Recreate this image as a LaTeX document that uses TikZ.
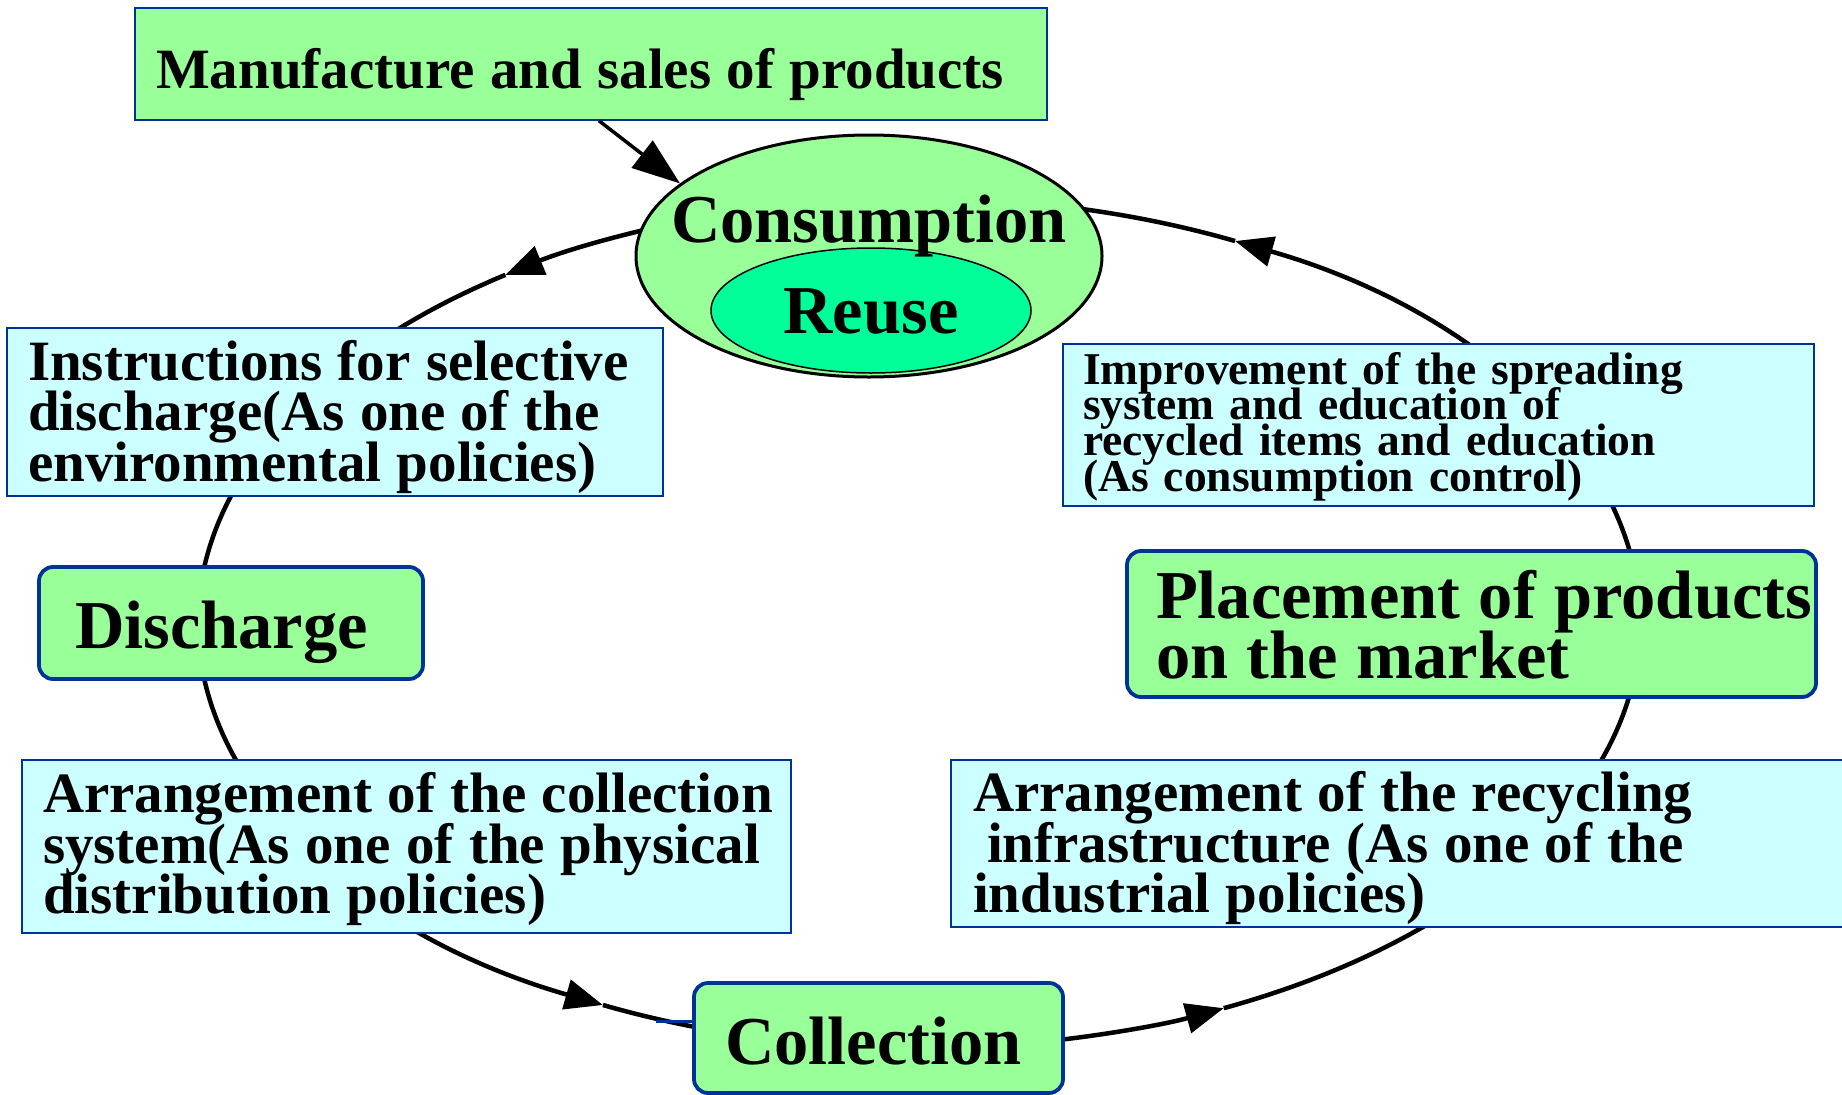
\documentclass[tikz,border=0pt]{standalone}
\usepackage{fontspec}
\setmainfont{Liberation Serif}
\usetikzlibrary{shapes.geometric,arrows.meta,calc}
\definecolor{lgreen}{RGB}{153,255,153}
\definecolor{lcyan}{RGB}{204,255,255}
\definecolor{reusegreen}{RGB}{0,255,153}
\definecolor{bordblue}{RGB}{0,51,153}
\pgfdeclarelayer{background}
\pgfsetlayers{background,main}
\newcommand\tightsp{\spaceskip=.27em plus .05em\relax}
\begin{document}
\begin{tikzpicture}[x=1pt, y=-1pt,
  bigfont/.style={font={\fontsize{68.5}{60.5}\selectfont\bfseries\lineskiplimit=-500pt\relax}},
  midfont/.style={font={\fontsize{57}{50.5}\selectfont\bfseries\lineskiplimit=-500pt\relax}},
  smallfont/.style={font={\fontsize{45.5}{35.7}\selectfont\bfseries\lineskiplimit=-500pt\relax}},
  flatbox/.style={rectangle, draw=bordblue, line width=1.5pt, inner ysep=0pt, align=left},
  greenflat/.style={flatbox, fill=lgreen},
  cyanflat/.style={flatbox, fill=lcyan},
  roundbox/.style={rectangle, rounded corners=14pt, draw=bordblue, line width=3.8pt, fill=lgreen, inner ysep=0pt, align=left},
  cyc/.style={line width=4.5pt, black},
  cyctip/.style={-{Triangle[length=38pt,width=30pt]}},
  eradii/.style={x radius=721, y radius=425},
]
\useasboundingbox (0,0) rectangle (1842,1095);

% boxes
\node[greenflat, midfont, minimum width=912, minimum height=112, inner xsep=21, text width=870, text height=48, text depth=0] (manu) at (591,64) {\tightsp\mbox{Manufacture and sales of products}};

\node[ellipse, draw=black, line width=3pt, fill=lgreen, minimum width=466, minimum height=242, inner sep=0pt] (cons) at (869,256) {};
\node[ellipse, draw=black, line width=1.5pt, fill=reusegreen, minimum width=320, minimum height=125, inner sep=0pt, bigfont, text height=46, text depth=0] (reuse) at (871,310.5) {Reuse};
\node[bigfont, anchor=base, inner sep=0pt] (constext) at (869,242) {Consumption};

\node[cyanflat, midfont, minimum width=656, minimum height=168, inner xsep=21, text width=614, text height=20, text depth=84] (instr) at (335,412)
  {\tightsp\mbox{Instructions for selective}\\\mbox{discharge(As one of the}\\\mbox{environmental policies)}};

\node[cyanflat, smallfont, minimum width=751, minimum height=162, inner xsep=20, text width=711, text height=10, text depth=92] (improve) at (1438.5,425)
  {\mbox{Improvement of the spreading}\\\mbox{system and education of}\\\mbox{recycled items and education}\\\mbox{(As consumption control)}};

\node[roundbox, bigfont, minimum width=384, minimum height=112, inner xsep=36, text width=312, text height=50, text depth=0] (discharge) at (231,623) {\mbox{Discharge}};

\node[roundbox, bigfont, minimum width=689, minimum height=146, inner xsep=29, text width=631, text height=40, text depth=52] (placement) at (1471.5,624)
  {\tightsp\mbox{Placement of products}\\\mbox{on the market}};

\node[cyanflat, midfont, minimum width=769, minimum height=173, inner xsep=21, text width=727, text height=20, text depth=88] (collsys) at (406.5,846.5)
  {\tightsp\mbox{Arrangement of the collection}\\\mbox{system(As one of the physical}\\\mbox{distribution policies)}};

\node[cyanflat, midfont, minimum width=909, minimum height=167, inner xsep=22, text width=865, text height=20, text depth=84] (recyc) at (1405.5,843.5)
  {\tightsp\mbox{Arrangement of the recycling}\\\mbox{\hspace*{14pt}infrastructure (As one of the}\\\mbox{industrial policies)}};

\node[roundbox, bigfont, minimum width=369, minimum height=110, inner xsep=31, text width=307, text height=52, text depth=0] (coll) at (878.5,1038) {\mbox{Collection}};

% manufacture -> consumption
\draw[line width=3.5pt, -{Triangle[length=48pt,width=34pt]}] ([xshift=8pt]manu.south) -- (cons.159);

% small blue stub at the collection box
\draw[bordblue, line width=3pt] ([yshift=17pt]coll.west) -- ++(-36,0);

% cycle arcs
\begin{pgfonlayer}{background}
\fill[white] (0,0) rectangle (1842,1095);
\coordinate (O) at (919,623);
\coordinate (s1) at ($(O)+(252:721 and 425)$);
\coordinate (m1) at ($(O)+(235:721 and 425)$);
\coordinate (s2) at ($(O)+(178:721 and 425)$);
\coordinate (m2) at ($(O)+(116:721 and 425)$);
\coordinate (s3) at ($(O)+(80:721 and 425)$);
\coordinate (m3) at ($(O)+(65:721 and 425)$);
\coordinate (s4) at ($(O)+(358:721 and 425)$);
\coordinate (m4) at ($(O)+(296:721 and 425)$);
% Consumption -> Discharge
\draw[cyc, cyctip] (s1) arc[start angle=252, end angle=235, eradii];
\draw[cyc] (m1) arc[start angle=235, end angle=182, eradii];
% Discharge -> Collection
\draw[cyc, cyctip] (s2) arc[start angle=178, end angle=116, eradii];
\draw[cyc] (m2) arc[start angle=116, end angle=100, eradii];
% Collection -> Placement
\draw[cyc, cyctip] (s3) arc[start angle=80, end angle=65, eradii];
\draw[cyc] (m3) arc[start angle=65, end angle=-2, eradii];
% Placement -> Consumption
\draw[cyc, cyctip] (s4) arc[start angle=358, end angle=296, eradii];
\draw[cyc] (m4) arc[start angle=296, end angle=280, eradii];
\end{pgfonlayer}
\end{tikzpicture}
\end{document}
